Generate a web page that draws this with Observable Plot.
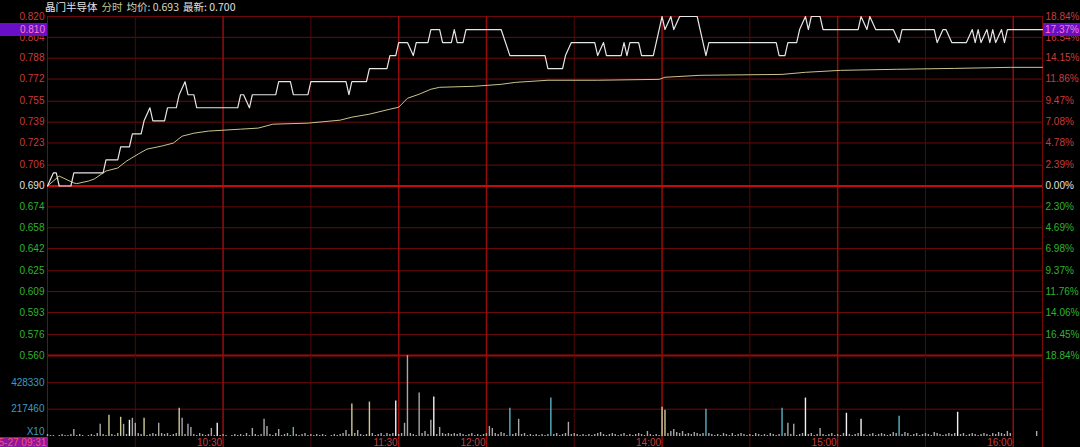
<!DOCTYPE html>
<html><head><meta charset="utf-8">
<script src="https://cdn.jsdelivr.net/npm/d3@7"></script>
<script src="https://cdn.jsdelivr.net/npm/@observablehq/plot@0.6"></script>
<style>
html,body{margin:0;padding:0;background:#000;}
#wrap{position:relative;width:1080px;height:447px;overflow:hidden;background:#000;font-family:"Liberation Sans",Arial,sans-serif;}
#wrap svg{position:absolute;left:0;overflow:visible;max-width:none;}
.title{position:absolute;left:45px;top:0px;font-size:10.5px;line-height:13px;font-family:"Noto Sans CJK SC","Liberation Sans",sans-serif;white-space:nowrap;color:#e0e0e0}
.title span{margin-right:4px}
.box{position:absolute;height:13px;line-height:13px;font-size:10px;background:#6a0fc8;color:#ff78c0;text-align:right;padding-right:2px;box-sizing:border-box}
.date{position:absolute;left:-7px;top:437px;width:55px;height:11px;line-height:11px;font-size:10px;background:#8a1a9a;color:#ff5070;text-align:right;padding-right:2px;box-sizing:border-box;overflow:hidden;white-space:nowrap}
</style></head>
<body><div id="wrap"></div>
<script>
// ---------- data ----------
const stockName = "晶门半导体";
const headerMode = "分时";
const headerAvg = "均价: 0.693";
const headerLast = "最新: 0.700";
const dateLabel = "05-27 09:31";
const basePrice = 0.690;
const lastPrice = 0.810;
const lastPct = "17.37%";

const priceTicksUp = [0.820, 0.804, 0.788, 0.772, 0.755, 0.739, 0.723, 0.706];
const pctTicksUp = ["18.84%", "16.54%", "14.15%", "11.86%", "9.47%", "7.08%", "4.78%", "2.39%"];
const priceTicksDown = [0.674, 0.658, 0.642, 0.625, 0.609, 0.593, 0.576, 0.560];
const pctTicksDown = ["2.30%", "4.69%", "6.98%", "9.37%", "11.76%", "14.06%", "16.45%", "18.84%"];
const volTicks = [0, 217.46, 428.33];           // thousands
const volTickLabels = ["X10", "217460", "428330"];
const timeTicks = ["10:30", "11:30", "12:00", "14:00", "15:00", "16:00"];
const minorTimes = ["10:00", "11:00", "13:30", "14:30", "15:30"];
const sessionEdges = ["09:30", "16:10"];

const priceTime = ["09:30","09:32","09:33","09:34","09:38","09:39","09:49","09:50","09:54","09:55","09:58","09:59",
"10:02","10:03","10:05","10:06","10:10","10:11","10:14","10:15","10:17","10:18","10:20","10:21","10:35","10:36",
"10:37","10:39","10:40","10:48","10:49","10:53","10:54","10:59","11:00","11:12","11:13","11:14","11:19","11:20",
"11:26","11:27","11:29","11:30","11:33","11:35","11:36","11:40","11:41","11:44","11:45","11:48","11:49","11:50",
"11:52","11:53","13:05","13:08","13:20","13:21","13:26","13:27","13:29","13:37","13:38","13:40","13:41","13:46",
"13:47","13:48","13:49","13:52","13:53","13:57","13:59","14:00","14:01","14:03","14:04","14:06","14:12","14:15",
"14:16","14:39","14:40","14:42","14:43","14:46","14:47","14:49","14:50","14:51","14:54","14:55","15:07","15:08",
"15:10","15:11","15:13","15:19","15:21","15:22","15:33","15:34","15:36","15:37","15:39","15:44","15:46","15:47",
"15:48","15:49","15:51","15:52","15:53","15:54","15:56","15:57","15:58","16:10"];
const priceVal = [0.69,0.70,0.70,0.69,0.69,0.70,0.70,0.71,0.71,0.72,0.72,0.73,
0.73,0.74,0.75,0.74,0.74,0.75,0.75,0.76,0.77,0.76,0.76,0.75,0.75,0.76,
0.76,0.75,0.76,0.76,0.77,0.77,0.76,0.76,0.77,0.77,0.76,0.77,0.77,0.78,
0.78,0.79,0.79,0.80,0.80,0.79,0.80,0.80,0.81,0.81,0.80,0.80,0.81,0.80,
0.80,0.81,0.81,0.79,0.79,0.78,0.78,0.79,0.80,0.80,0.79,0.80,0.79,0.79,
0.80,0.79,0.80,0.80,0.79,0.79,0.81,0.82,0.81,0.82,0.81,0.82,0.82,0.79,
0.80,0.80,0.79,0.79,0.80,0.80,0.81,0.82,0.81,0.82,0.82,0.81,0.81,0.82,
0.81,0.82,0.81,0.81,0.80,0.81,0.81,0.80,0.81,0.81,0.80,0.80,0.81,0.80,
0.81,0.80,0.81,0.80,0.81,0.80,0.81,0.80,0.81,0.81];

const avgTime = ["09:30","09:34","09:39","09:40","09:44","09:46","09:50","09:54","09:57","10:01","10:04","10:09",
"10:13","10:16","10:20","10:25","10:36","10:42","10:47","10:59","11:10","11:14","11:20","11:27","11:30","11:33",
"11:37","11:41","11:44","11:56","13:05","13:10","13:21","13:38","13:59","14:01","14:13","14:41","14:49","15:01",
"15:20","15:40","15:59","16:10"];
const avgVal = [0.6900,0.6976,0.6923,0.6918,0.6938,0.6954,0.7015,0.7038,0.7091,0.7145,0.7183,0.7206,
0.7229,0.7282,0.7305,0.7321,0.7336,0.7344,0.7374,0.7382,0.7405,0.7428,0.7451,0.7489,0.7504,0.7573,
0.7604,0.7642,0.7657,0.7665,0.7680,0.7695,0.7711,0.7711,0.7718,0.7734,0.7749,0.7756,0.7772,0.7787,
0.7795,0.7802,0.7810,0.7810];

// volume per trading minute from 09:30 (thousands of lots)
const volumeK = [
16,8,8,0,8,16,8,8,16,56,
8,16,8,0,8,16,8,24,97,16,
8,169,16,8,24,153,97,16,129,145,
105,24,16,145,8,16,24,16,105,24,
16,24,8,16,24,225,145,16,97,72,
16,8,24,16,8,16,64,8,105,8,
16,8,0,8,16,8,16,8,24,8,
64,16,8,16,137,80,16,8,24,56,
8,16,24,8,72,16,8,16,24,8,
16,8,16,8,16,8,0,8,16,8,
16,24,48,16,258,24,48,16,8,16,
274,24,8,16,24,8,24,16,24,282,
16,24,105,644,24,16,8,346,24,40,
16,129,314,16,72,24,16,24,16,24,
16,24,16,8,16,24,8,16,8,16,
24,80,64,24,16,32,24,8,225,16,
24,137,16,24,8,16,8,16,8,16,
8,16,306,16,24,8,16,24,113,16,
24,16,8,16,8,16,8,16,24,32,
16,8,16,24,16,8,16,24,8,16,
8,16,24,16,8,40,16,8,16,8,
233,209,24,40,56,32,24,40,16,24,
16,32,24,16,24,217,24,16,8,16,
8,24,16,8,24,8,16,24,16,8,
16,8,24,16,8,16,8,24,16,8,
16,225,24,105,16,97,8,16,24,306,
16,24,8,16,64,16,8,16,24,8,
16,8,24,185,16,8,16,24,137,16,
8,16,24,8,16,24,16,8,16,32,
24,161,16,32,24,8,16,24,8,16,
24,16,8,32,24,16,8,16,24,16,
24,193,16,24,8,16,24,16,8,16,
24,16,8,24,16,32,24,16,40,24,
0,0,0,0,0,0,0,0,40,0];
const volKhakiTimes = ["09:51","09:55","10:03","10:15","11:14","11:20","14:00","14:01"];
const volWhiteTimes = ["09:58","10:28","11:29","11:42","14:49","15:03","15:08","15:41"];
const volCyanTimes = ["10:54","13:08","13:22","14:15","14:41","15:21"];

// ---------- helpers ----------
const toIdx = t => { const [h, m] = t.split(":").map(Number); const mm = h * 60 + m; return mm <= 720 ? mm - 570 : mm - 780 + 150; };
const priceData = priceTime.map((t, i) => ({x: toIdx(t), y: priceVal[i]}));
const avgData = avgTime.map((t, i) => ({x: toIdx(t), y: avgVal[i]}));
const kh = new Set(volKhakiTimes.map(toIdx)), wh = new Set(volWhiteTimes.map(toIdx)), cy = new Set(volCyanTimes.map(toIdx));
const volData = volumeK.map((v, i) => ({x: i, v, k: kh.has(i) ? "k" : wh.has(i) ? "w" : cy.has(i) ? "c" : "g"})).filter(d => d.v > 0);
const majorIdx = timeTicks.map(toIdx);
const minorIdx = minorTimes.map(toIdx);
const edgeIdx = sessionEdges.map(toIdx);

const RED = "#c83c3c", GREEN = "#2eb42e", WHITE = "#e0e0e0", CYAN = "#3a9cc4";
const GRID = "#700a0a", MINOR = "#520808", MAJOR = "#960c0c";

const common = {
  width: 1080, marginLeft: 47, marginRight: 38,
  x: {domain: [0, 340], axis: null},
  style: {background: "transparent", fontFamily: "Liberation Sans, Arial, sans-serif", fontSize: "10px"}
};

const pricePlot = Plot.plot({
  ...common,
  height: 357, marginTop: 16, marginBottom: 2,
  y: {domain: [0.56, 0.82], axis: null},
  marks: [
    Plot.ruleY(priceTicksUp.concat(priceTicksDown).filter(v => v !== 0.56), {stroke: GRID, strokeWidth: 1}),
    Plot.ruleX(minorIdx, {stroke: MINOR, strokeWidth: 1}),
    Plot.ruleX(majorIdx, {stroke: MAJOR, strokeWidth: 1.5}),
    Plot.ruleX(edgeIdx, {stroke: "#7a0a0a", strokeWidth: 1}),
    Plot.ruleY([basePrice], {stroke: "#c80a0a", strokeWidth: 2}),
    Plot.ruleY([0.56], {stroke: "#a00a0a", strokeWidth: 2}),
    Plot.line(avgData, {x: "x", y: "y", stroke: "#c8c48c", strokeWidth: 1}),
    Plot.line(priceData, {x: "x", y: "y", stroke: "#e6e6e6", strokeWidth: 1.2}),
    Plot.text(priceTicksUp, {y: d => d, text: d => d.toFixed(3), frameAnchor: "left", dx: -3, textAnchor: "end", fill: RED}),
    Plot.text([basePrice], {y: d => d, text: d => d.toFixed(3), frameAnchor: "left", dx: -3, textAnchor: "end", fill: WHITE}),
    Plot.text(priceTicksDown, {y: d => d, text: d => d.toFixed(3), frameAnchor: "left", dx: -3, textAnchor: "end", fill: GREEN}),
    Plot.text(priceTicksUp, {y: d => d, text: (d, i) => pctTicksUp[i], frameAnchor: "right", dx: 3, textAnchor: "start", fill: RED}),
    Plot.text([basePrice], {y: d => d, text: () => "0.00%", frameAnchor: "right", dx: 3, textAnchor: "start", fill: WHITE}),
    Plot.text(priceTicksDown, {y: d => d, text: (d, i) => pctTicksDown[i], frameAnchor: "right", dx: 3, textAnchor: "start", fill: GREEN})
  ]
});

const volPlot = Plot.plot({
  ...common,
  height: 92, marginTop: 0, marginBottom: 11,
  y: {domain: [0, 645], axis: null},
  marks: [
    Plot.ruleY(volTicks.slice(1), {stroke: GRID, strokeWidth: 1}),
    Plot.ruleX(minorIdx, {stroke: MINOR, strokeWidth: 1, insetBottom: -11}),
    Plot.ruleX(majorIdx, {stroke: MAJOR, strokeWidth: 1.5, insetBottom: -11}),
    Plot.ruleX(edgeIdx, {stroke: "#7a0a0a", strokeWidth: 1, insetBottom: -11}),
    Plot.ruleX(volData.filter(d => d.k === "g"), {x: "x", y1: 0, y2: "v", stroke: "#a8a8a8", strokeWidth: 1.4}),
    Plot.ruleX(volData.filter(d => d.k === "k"), {x: "x", y1: 0, y2: "v", stroke: "#cfca98", strokeWidth: 1.4}),
    Plot.ruleX(volData.filter(d => d.k === "w"), {x: "x", y1: 0, y2: "v", stroke: "#f2f2f2", strokeWidth: 1.4}),
    Plot.ruleX(volData.filter(d => d.k === "c"), {x: "x", y1: 0, y2: "v", stroke: "#5ab4c4", strokeWidth: 1.4}),
    Plot.text(volTicks.slice(1), {y: d => d, text: (d, i) => volTickLabels[i + 1], frameAnchor: "left", dx: -3, textAnchor: "end", fill: CYAN}),
    Plot.text(volTicks.slice(0, 1), {y: d => d, text: (d, i) => volTickLabels[i], frameAnchor: "left", dx: -3, dy: -5, textAnchor: "end", fill: CYAN}),
    Plot.text(timeTicks, {x: d => toIdx(d), text: d => d, frameAnchor: "bottom", dy: 6, dx: -1, textAnchor: "end", lineAnchor: "middle", fill: RED})
  ]
});

const wrap = document.getElementById("wrap");
pricePlot.style.top = "0px";
volPlot.style.top = "355px";
wrap.appendChild(pricePlot);
wrap.appendChild(volPlot);

// header
const title = document.createElement("div");
title.className = "title";
title.innerHTML = `<span style="color:#e4e4e4">${stockName}</span><span style="color:#c8c890">${headerMode}</span><span style="color:#d8d8c0">${headerAvg}</span><span style="color:#e0e0e0">${headerLast}</span>`;
wrap.appendChild(title);

// last price markers
const yLast = pricePlot.scale("y").apply(lastPrice);
const lbox = document.createElement("div");
lbox.className = "box"; lbox.style.left = "0px"; lbox.style.width = "47px"; lbox.style.top = (yLast - 6.5) + "px";
lbox.textContent = lastPrice.toFixed(3);
wrap.appendChild(lbox);
const rbox = document.createElement("div");
rbox.className = "box"; rbox.style.left = "1043px"; rbox.style.width = "37px"; rbox.style.top = (yLast - 6.5) + "px";
rbox.style.textAlign = "left"; rbox.style.paddingLeft = "2px";
rbox.textContent = lastPct;
wrap.appendChild(rbox);

// date box
const date = document.createElement("div");
date.className = "date";
date.textContent = dateLabel;
wrap.appendChild(date);
</script>
</body></html>
